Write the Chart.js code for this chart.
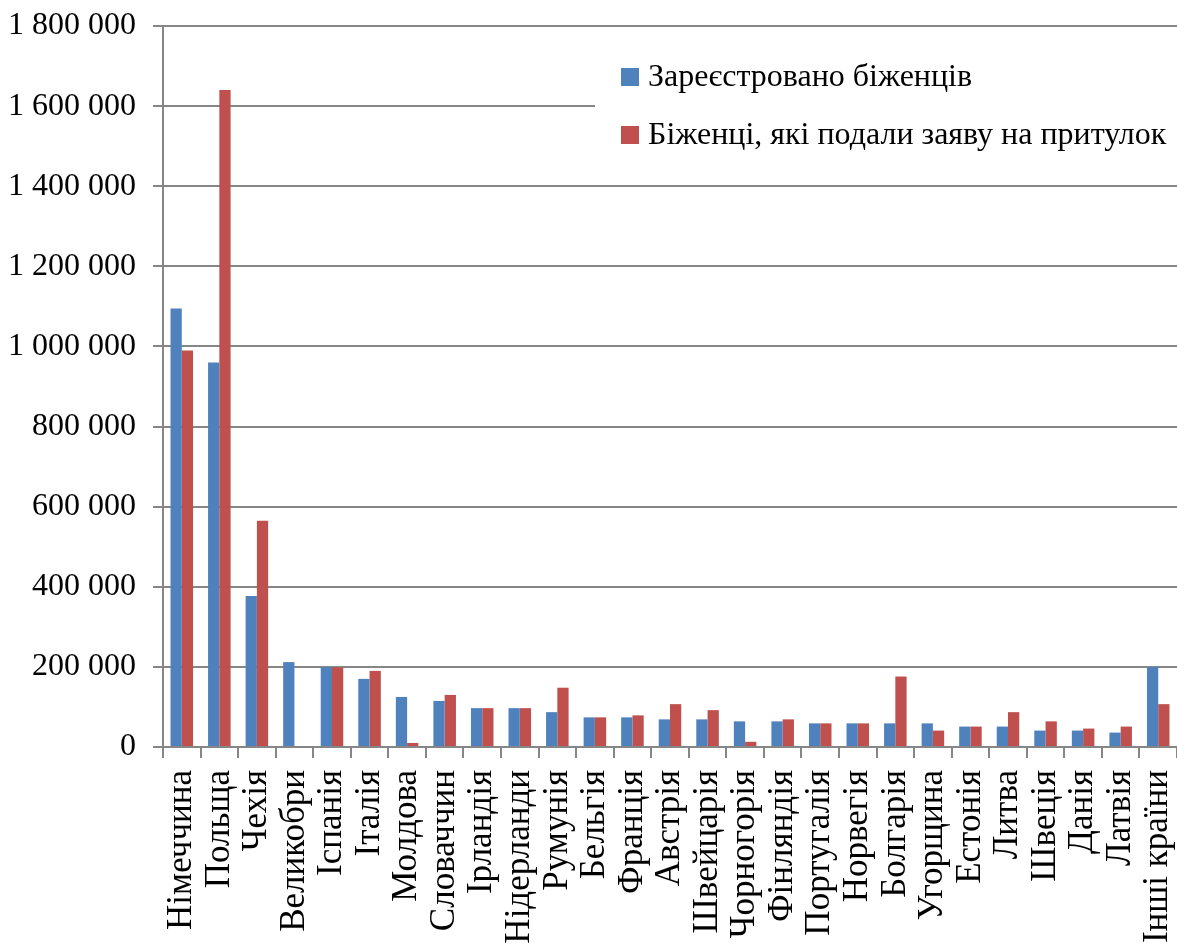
<!DOCTYPE html>
<html>
<head>
<meta charset="utf-8">
<script src="https://cdn.jsdelivr.net/npm/chart.js@4.4.1/dist/chart.umd.min.js"></script>
<style>
  html, body { margin: 0; padding: 0; background: #ffffff; }
  #wrap { width: 1177px; height: 945px; position: relative; }
</style>
</head>
<body>
<div id="wrap"><canvas id="refugeeChart"></canvas></div>
<script>
// Країни (категорії осі X) — як підписано на рисунку
const countries = ['Німеччина', 'Польща', 'Чехія', 'Великобри', 'Іспанія', 'Італія', 'Молдова',
    'Словаччин', 'Ірландія', 'Нідерланди', 'Румунія', 'Бельгія', 'Франція', 'Австрія', 'Швейцарія',
    'Чорногорія', 'Фінляндія', 'Португалія', 'Норвегія', 'Болгарія', 'Угорщина', 'Естонія', 'Литва',
    'Швеція', 'Данія', 'Латвія', 'Інші країни'];

// Серія 1: зареєстровано біженців
const registered = [1095000, 960000, 377000, 212000, 199000, 170000, 125000,
    115000, 97000, 97000, 87000, 74000, 74000, 69000, 69000,
    64000, 64000, 59000, 59000, 59000, 59000, 51000, 51000,
    41000, 41000, 36000, 200000];

// Серія 2: біженці, які подали заяву на притулок
const asylum = [990000, 1640000, 565000, 0, 199000, 190000, 10000,
    130000, 97000, 97000, 148000, 74000, 79000, 107000, 92000,
    13000, 69000, 59000, 59000, 176000, 41000, 51000, 87000,
    64000, 46000, 51000, 107000];

const seriesNames = ['Зареєстровано біженців', 'Біженці, які подали заяву на притулок'];
const yTicks = [0, 200000, 400000, 600000, 800000, 1000000, 1200000, 1400000, 1600000, 1800000];

const FONT = '"Liberation Serif", "Times New Roman", serif';
const GRID = '#868686';

// Легенда поверх області графіка у білій рамці (як в Excel)
const boxLegend = {
    id: 'boxLegend',
    afterDraw(chart) {
        const c = chart.ctx;
        c.save();
        c.fillStyle = '#ffffff';
        c.fillRect(595, 48, 582, 116);
        c.font = '32px ' + FONT;
        c.textBaseline = 'middle';
        const rows = [77, 135];
        chart.data.datasets.forEach(function(ds, i) {
            c.fillStyle = ds.backgroundColor;
            c.fillRect(621, rows[i] - 9, 18, 18);
            c.fillStyle = '#000000';
            c.fillText(ds.label, 648, rows[i] + 1);
        });
        c.restore();
    }
};

new Chart(document.getElementById('refugeeChart'), {
    type: 'bar',
    data: {
        labels: countries,
        datasets: [
            { label: seriesNames[0], data: registered, backgroundColor: '#4F81BD' },
            { label: seriesNames[1], data: asylum, backgroundColor: '#C0504D' }
        ]
    },
    options: {
        responsive: true,
        maintainAspectRatio: false,
        animation: false,
        layout: { padding: { top: 26, right: 0, bottom: 0, left: 0 } },
        datasets: {
            bar: { categoryPercentage: 0.6, barPercentage: 1 }
        },
        plugins: {
            legend: { display: false },
            tooltip: { enabled: false }
        },
        scales: {
            x: {
                afterFit: function(scale) {
                    scale.height = 198;
                    scale.paddingLeft = 0;
                    scale.paddingRight = 0;
                },
                grid: {
                    offset: true,
                    drawOnChartArea: false,
                    drawTicks: true,
                    tickLength: 11,
                    color: GRID,
                    lineWidth: 2
                },
                border: { color: GRID, width: 2 },
                ticks: {
                    autoSkip: false,
                    minRotation: 90,
                    maxRotation: 90,
                    padding: 12,
                    color: '#000000',
                    font: { family: FONT, size: 35 }
                }
            },
            y: {
                min: 0,
                max: 1800000,
                afterFit: function(scale) {
                    scale.width = 163;
                    scale.paddingTop = 0;
                    scale.paddingBottom = 0;
                },
                afterBuildTicks: function(scale) {
                    scale.ticks = yTicks.map(function(v) { return { value: v }; });
                },
                grid: {
                    color: GRID,
                    lineWidth: 2,
                    tickLength: 10
                },
                border: { color: GRID, width: 2 },
                ticks: {
                    padding: 17,
                    color: '#000000',
                    font: { family: FONT, size: 32 },
                    callback: function(value) {
                        return String(value).replace(/\B(?=(\d{3})+(?!\d))/g, ' ');
                    }
                }
            }
        }
    },
    plugins: [boxLegend]
});
</script>
</body>
</html>
